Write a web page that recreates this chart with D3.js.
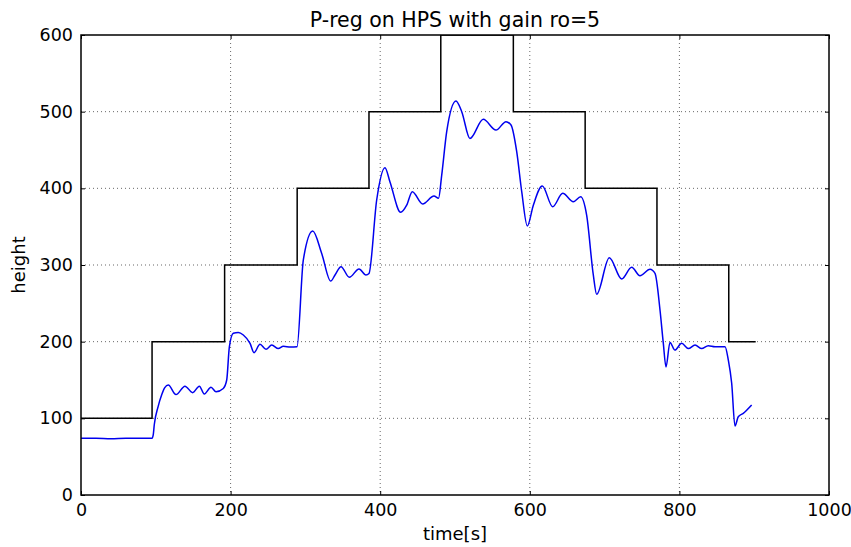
<!DOCTYPE html>
<html>
<head>
<meta charset="utf-8">
<script src="https://cdn.jsdelivr.net/npm/d3@7"></script>
<style>
  body { margin: 0; background: #fff; }
  text { font-family: "DejaVu Sans", sans-serif; fill: #000; }
</style>
</head>
<body>
<div id="chart"></div>
<script>
// reference height (step changes) [time, height]
const refSteps = [
  [0, 100], [95, 100], [95, 200], [192, 200], [192, 300], [289, 300], [289, 400],
  [385, 400], [385, 500], [481, 500], [481, 600], [578, 600], [578, 500],
  [674, 500], [674, 400], [770, 400], [770, 300], [866, 300], [866, 200], [902, 200]
];

// measured height [time, height]
const measured = [
  [0, 74], [20, 74], [40, 73.5], [60, 74], [80, 74], [95, 74], [96.5, 78], [98, 92],
  [103, 115], [108, 131], [112, 140], [116.7, 143.5], [127, 131], [139, 142],
  [149.3, 133.5], [158.2, 142], [164.8, 131.7], [173.8, 140.5], [180.5, 134.7],
  [190.2, 139], [194.8, 150], [198.3, 193], [203.6, 211], [210.3, 212], [217, 208.7],
  [226, 197.8], [231.3, 185.6], [239.3, 196.5], [247.3, 190], [255, 195.6],
  [263.8, 191], [270.5, 194], [280, 193], [288.8, 193.4], [297.2, 306.5],
  [309.8, 344.3], [321.8, 315], [333.8, 279], [339.6, 287], [347.6, 297.8],
  [358.7, 284], [371.7, 294.8], [381, 287], [385, 289], [395.3, 384.8],
  [406.4, 427], [413, 408.7], [427.4, 368.7], [435.4, 378], [442.9, 395.6],
  [456.8, 379.6], [471.9, 390], [478, 387], [482.2, 417], [488.9, 473.9],
  [501.3, 513.9], [509, 500], [520, 465], [537.8, 490], [554.8, 476],
  [568.2, 487], [574.9, 482.6], [582.5, 447.8], [589.2, 395.6], [596.7, 350.9],
  [604.7, 378], [616.7, 403], [630.6, 376], [644, 393.5], [658.2, 382.6],
  [668, 389], [676, 365], [684.9, 287], [689.4, 261.8], [706.3, 309.5],
  [722.9, 281.7], [736.2, 297], [747.3, 286], [760.7, 294.4], [767.4, 289],
  [774.1, 241], [778.5, 197.8], [782.1, 167], [787.4, 199], [794, 189],
  [803, 197.8], [812, 191], [820.9, 195.6], [829.8, 191], [838.6, 194.8],
  [847.6, 193.5], [861, 193.5], [865.4, 176], [869.9, 145.7], [874.3, 90],
  [878.7, 102], [885.4, 106.5], [896.6, 117.4]
];

const xTicks = [0, 200, 400, 600, 800, 1000];
const yTicks = [0, 100, 200, 300, 400, 500, 600];

const width = 851, height = 547;
const margin = { top: 35, right: 22, bottom: 52, left: 81 };
const w = width - margin.left - margin.right;
const h = height - margin.top - margin.bottom;

const svg = d3.select('#chart').append('svg')
  .attr('width', width)
  .attr('height', height);

const g = svg.append('g').attr('transform', `translate(${margin.left},${margin.top})`);

const x = d3.scaleLinear().domain([0, 1000]).range([0, w]);
const y = d3.scaleLinear().domain([0, 600]).range([h, 0]);

// grid
g.append('g').selectAll('line').data(xTicks.slice(1, -1)).join('line')
  .attr('x1', d => x(d)).attr('x2', d => x(d))
  .attr('y1', 0).attr('y2', h)
  .attr('stroke', '#000').attr('stroke-width', 0.6)
  .attr('stroke-dasharray', '1,3');
g.append('g').selectAll('line').data(yTicks.slice(1, -1)).join('line')
  .attr('y1', d => y(d)).attr('y2', d => y(d))
  .attr('x1', 0).attr('x2', w)
  .attr('stroke', '#000').attr('stroke-width', 0.6)
  .attr('stroke-dasharray', '1,3');

svg.append('clipPath').attr('id', 'plotclip')
  .append('rect').attr('width', w).attr('height', h);

const plot = g.append('g').attr('clip-path', 'url(#plotclip)');

plot.append('path')
  .datum(refSteps)
  .attr('fill', 'none')
  .attr('stroke', '#000')
  .attr('stroke-width', 1.5)
  .attr('d', d3.line().x(d => x(d[0])).y(d => y(d[1])));

plot.append('path')
  .datum(measured)
  .attr('fill', 'none')
  .attr('stroke', '#0000ee')
  .attr('stroke-width', 1.5)
  .attr('stroke-linejoin', 'round')
  .attr('d', d3.line().curve(d3.curveMonotoneX).x(d => x(d[0])).y(d => y(d[1])));

// axes: ticks inside, on all sides
const tickLen = 4;
const fmt = d3.format('d');
const xb = g.append('g').attr('transform', `translate(0,${h})`)
  .call(d3.axisBottom(x).tickValues(xTicks).tickSize(-tickLen).tickPadding(9).tickFormat(fmt));
const xt = g.append('g')
  .call(d3.axisTop(x).tickValues(xTicks).tickSize(-tickLen).tickFormat(''));
const yl = g.append('g')
  .call(d3.axisLeft(y).tickValues(yTicks).tickSize(-tickLen).tickPadding(8).tickFormat(fmt));
const yr = g.append('g').attr('transform', `translate(${w},0)`)
  .call(d3.axisRight(y).tickValues(yTicks).tickSize(-tickLen).tickFormat(''));

[xb, xt, yl, yr].forEach(a => {
  a.select('.domain').remove();
  a.selectAll('line').attr('stroke', '#000').attr('stroke-width', 1);
  a.selectAll('text').style('font-size', '17.5px').style('font-family', '"DejaVu Sans", sans-serif');
});

g.append('rect')
  .attr('width', w).attr('height', h)
  .attr('fill', 'none').attr('stroke', '#000').attr('stroke-width', 1.5);

svg.append('text')
  .attr('x', margin.left + w / 2).attr('y', 27)
  .attr('text-anchor', 'middle')
  .style('font-size', '20.5px')
  .text('P-reg on HPS with gain ro=5');

svg.append('text')
  .attr('x', margin.left + w / 2).attr('y', 540)
  .attr('text-anchor', 'middle')
  .style('font-size', '18px')
  .text('time[s]');

svg.append('text')
  .attr('transform', `translate(25,${margin.top + h / 2}) rotate(-90)`)
  .attr('text-anchor', 'middle')
  .style('font-size', '18px')
  .text('height');
</script>
</body>
</html>
